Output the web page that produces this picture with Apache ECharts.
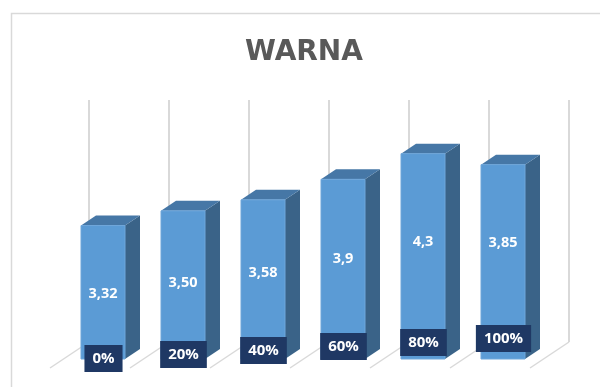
<!DOCTYPE html>
<html>
<head>
<meta charset="utf-8">
<script src="https://cdn.jsdelivr.net/npm/echarts@6/dist/echarts.min.js"></script>
<style>html,body{margin:0;padding:0;background:#fff}#c{width:600px;height:387px}</style>
</head>
<body>
<div id="c"></div>
<script>
const titleText = 'WARNA';
const categories = ['0%', '20%', '40%', '60%', '80%', '100%'];
const valueLabels = ['3,32', '3,50', '3,58', '3,9', '4,3', '3,85'];
const barValues = [3.32, 3.52, 3.67, 3.95, 4.30, 4.15];
const yMin = 1.5, yMax = 4.8;

const chart = echarts.init(document.getElementById('c'), null, {renderer: 'canvas'});

const FRONT = '#5B9BD5', TOP = '#4677A6', SIDE = '#3A6388', NAVY = '#1F3864';
const DX = 15, DY = 10;          // bar depth
const WBX = 26, WBY = 17;        // back wall offset
const FLX = 39, FLY = 26;        // floor depth

function wallItem(params, api) {
  const i = api.value(0);
  const band = api.size([1, 0])[0];
  const b = api.coord([i, yMin]);
  const t = api.coord([i, yMax]);
  const xs = [b[0] - band / 2 + WBX];
  if (i === categories.length - 1) xs.push(b[0] + band / 2 + WBX);
  const children = [];
  const ls = {stroke: '#D9D9D9', lineWidth: 2};
  xs.forEach(function (x) {
    children.push({type: 'line', shape: {x1: x, y1: t[1] - WBY, x2: x, y2: b[1] - WBY}, style: ls});
    children.push({type: 'line', shape: {x1: x, y1: b[1] - WBY, x2: x - FLX, y2: b[1] - WBY + FLY}, style: {stroke: '#D9D9D9', lineWidth: 1.5}});
  });
  return {type: 'group', children: children};
}

function barItem(params, api) {
  const i = api.value(0);
  const v = api.value(1);
  const band = api.size([1, 0])[0];
  const w = band * 0.55;
  const top = api.coord([i, v]);
  const base = api.coord([i, yMin]);
  const x0 = top[0] - w / 2, x1 = top[0] + w / 2;
  const yt = top[1], yb = base[1];
  const mid = (yt + yb) / 2;
  return {
    type: 'group',
    children: [
      {type: 'polygon', shape: {points: [[x1, yt], [x1 + DX, yt - DY], [x1 + DX, yb - DY], [x1, yb]]}, style: {fill: SIDE}},
      {type: 'polygon', shape: {points: [[x0, yt], [x0 + DX, yt - DY], [x1 + DX, yt - DY], [x1, yt]]}, style: {fill: TOP}},
      {type: 'rect', shape: {x: x0, y: yt, width: w, height: yb - yt}, style: {fill: FRONT, stroke: '#6FA6DA', lineWidth: 1}},
      {type: 'text', x: top[0], y: mid - 4 * i + 1.5,
        style: {text: valueLabels[i], fill: '#FFFFFF', font: 'bold 14.5px "Open Sans"', align: 'center', verticalAlign: 'middle'}},
      {type: 'text', x: top[0] + 0.5, y: yb - 0.5 - 4 * i,
        style: {text: categories[i], fill: '#FFFFFF', font: 'bold 15px "Open Sans"', align: 'center', verticalAlign: 'middle',
          backgroundColor: NAVY, padding: [5, 8, 5, 8], lineHeight: 17}}
    ]
  };
}

chart.setOption({
  animation: false,
  backgroundColor: '#FFFFFF',
  title: {
    text: titleText, left: 240, top: 34,
    textStyle: {color: '#595959', fontSize: 28, fontWeight: 'bold', fontFamily: '"DejaVu Sans"'}
  },
  graphic: [{
    type: 'rect', shape: {x: 11.5, y: 13.5, width: 700, height: 500},
    style: {fill: 'none', stroke: '#D9D9D9', lineWidth: 1.5}, z: -10, silent: true
  }],
  grid: {left: 63, right: 57, top: 117, bottom: 28},
  xAxis: {type: 'category', data: categories, show: false},
  yAxis: {type: 'value', min: yMin, max: yMax, show: false},
  series: [
    {type: 'custom', renderItem: wallItem, data: categories.map(function (c, i) { return [i]; }), encode: {x: 0}, z: 1, silent: true},
    {type: 'custom', renderItem: barItem, data: barValues.map(function (v, i) { return [i, v]; }), encode: {x: 0, y: 1}, z: 2}
  ]
});
</script>
</body>
</html>
